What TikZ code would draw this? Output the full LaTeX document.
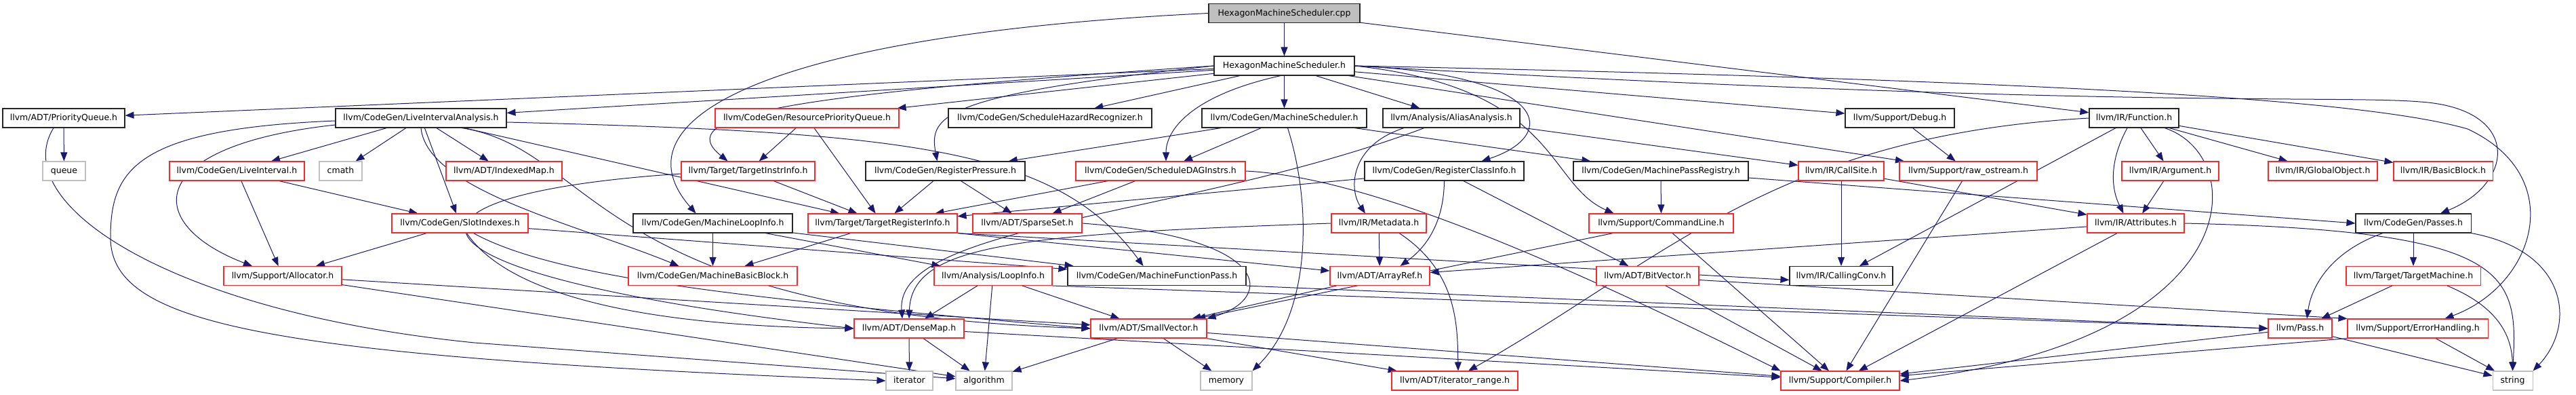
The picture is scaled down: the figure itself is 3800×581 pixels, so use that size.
\documentclass[tikz,border=0pt]{standalone}
\usepackage{fontspec}
\setmainfont{DejaVu Sans}
\usepackage{xcolor}
\usepackage{tikz}
\usetikzlibrary{arrows.meta, backgrounds}
\definecolor{edgeblue}{RGB}{25,25,112}
\definecolor{incred}{RGB}{255,40,40}
\definecolor{sysgray}{RGB}{191,191,191}

\begin{document}
\begin{tikzpicture}[
    x=1pt, y=-1pt,
    box/.style={draw=black!85, line width=1.1pt, fill=white, minimum height=28pt, inner xsep=2pt, inner ysep=0pt,
                text height=9.5pt, text depth=2.5pt, font=\fontsize{12.5}{14}\selectfont},
    redbox/.style={box, draw=incred},
    sysbox/.style={box, draw=sysgray},
    mainbox/.style={box, fill=sysgray},
    arrow/.style={-{Triangle[length=13pt, width=10pt]}, draw=edgeblue, line width=1pt},
]
\useasboundingbox (0,0) rectangle (3800,581);

% Source file and its header
\node[mainbox, minimum width=223] (cpp) at (1894.5,19.5) {HexagonMachineScheduler.cpp};
\node[box, minimum width=207] (hms) at (1894.5,97) {HexagonMachineScheduler.h};

% Row 2
\node[box, minimum width=180] (pq) at (94,174) {llvm/ADT/PriorityQueue.h};
\node[box, minimum width=252] (lia) at (621,174) {llvm/CodeGen/LiveIntervalAnalysis.h};
\node[redbox, minimum width=271] (rpq) at (1190.5,174) {llvm/CodeGen/ResourcePriorityQueue.h};
\node[box, minimum width=300] (shr) at (1549,174) {llvm/CodeGen/ScheduleHazardRecognizer.h};
\node[box, minimum width=243] (ms) at (1894.5,174) {llvm/CodeGen/MachineScheduler.h};
\node[box, minimum width=202] (aa) at (2141,174) {llvm/Analysis/AliasAnalysis.h};
\node[box, minimum width=161] (dbg) at (2802.5,174) {llvm/Support/Debug.h};
\node[box, minimum width=132] (fn) at (3148,174) {llvm/IR/Function.h};

% Row 3
\node[sysbox, minimum width=63] (queue) at (94.5,252) {queue};
\node[redbox, minimum width=199] (li) at (349.5,252) {llvm/CodeGen/LiveInterval.h};
\node[sysbox, minimum width=63] (cmath) at (502.5,252) {cmath};
\node[redbox, minimum width=171] (imap) at (743.5,252) {llvm/ADT/IndexedMap.h};
\node[redbox, minimum width=197] (tii) at (1103.5,252) {llvm/Target/TargetInstrInfo.h};
\node[box, minimum width=235] (rp) at (1394.5,252) {llvm/CodeGen/RegisterPressure.h};
\node[redbox, minimum width=250] (sdi) at (1712,252) {llvm/CodeGen/ScheduleDAGInstrs.h};
\node[box, minimum width=235] (rci) at (2130.5,252) {llvm/CodeGen/RegisterClassInfo.h};
\node[box, minimum width=258] (mpr) at (2450,252) {llvm/CodeGen/MachinePassRegistry.h};
\node[redbox, minimum width=126] (cs) at (2716,252) {llvm/IR/CallSite.h};
\node[redbox, minimum width=203] (ros) at (2903.5,252) {llvm/Support/raw\_ostream.h};
\node[redbox, minimum width=143] (arg) at (3201.5,252) {llvm/IR/Argument.h};
\node[redbox, minimum width=161] (go) at (3426.5,252) {llvm/IR/GlobalObject.h};
\node[redbox, minimum width=146] (bb) at (3604,252) {llvm/IR/BasicBlock.h};

% Row 4
\node[redbox, minimum width=201] (si) at (678.5,329) {llvm/CodeGen/SlotIndexes.h};
\node[box, minimum width=235] (mli) at (1051.5,329) {llvm/CodeGen/MachineLoopInfo.h};
\node[redbox, minimum width=220] (tri) at (1302,329) {llvm/Target/TargetRegisterInfo.h};
\node[redbox, minimum width=161] (ss) at (1515.5,329) {llvm/ADT/SparseSet.h};
\node[redbox, minimum width=140] (md) at (2034,329) {llvm/IR/Metadata.h};
\node[redbox, minimum width=213] (cl) at (2450.5,329) {llvm/Support/CommandLine.h};
\node[redbox, minimum width=143] (attr) at (3150.5,329) {llvm/IR/Attributes.h};
\node[box, minimum width=170] (passes) at (3560,329) {llvm/CodeGen/Passes.h};

% Row 5
\node[redbox, minimum width=174] (alloc) at (417,406.5) {llvm/Support/Allocator.h};
\node[redbox, minimum width=249] (mbb) at (1051.5,406.5) {llvm/CodeGen/MachineBasicBlock.h};
\node[redbox, minimum width=174] (loop) at (1465,406.5) {llvm/Analysis/LoopInfo.h};
\node[box, minimum width=263] (mfp) at (1706.5,406.5) {llvm/CodeGen/MachineFunctionPass.h};
\node[redbox, minimum width=147] (ar) at (2035.5,406.5) {llvm/ADT/ArrayRef.h};
\node[redbox, minimum width=151] (bv) at (2430.5,406.5) {llvm/ADT/BitVector.h};
\node[box, minimum width=152] (cc) at (2716,406.5) {llvm/IR/CallingConv.h};
\node[redbox, minimum width=198] (tm) at (3560,406.5) {llvm/Target/TargetMachine.h};

% Row 6
\node[redbox, minimum width=162] (dm) at (1341,484) {llvm/ADT/DenseMap.h};
\node[redbox, minimum width=171] (sv) at (1694.5,484) {llvm/ADT/SmallVector.h};
\node[redbox, minimum width=94] (pass) at (3393,484) {llvm/Pass.h};
\node[redbox, minimum width=207] (eh) at (3566.5,484) {llvm/Support/ErrorHandling.h};

% Row 7
\node[sysbox, minimum width=69] (iter) at (1341.5,561) {iterator};
\node[sysbox, minimum width=83] (algo) at (1451.5,561) {algorithm};
\node[sysbox, minimum width=76] (mem) at (1809,561) {memory};
\node[redbox, minimum width=186] (ir) at (2146,561) {llvm/ADT/iterator\_range.h};
\node[redbox, minimum width=175] (comp) at (2714.5,561) {llvm/Support/Compiler.h};
\node[sysbox, minimum width=59] (str) at (3706.5,561) {string};

\begin{scope}[on background layer]
% Source file
\draw[arrow] (cpp) -- (hms);
\draw[arrow] (cpp.west) .. controls (1150,50) and (900,170) .. ([xshift=-25pt]mli.north);
\draw[arrow] (cpp) -- (fn);

% HexagonMachineScheduler.h
\draw[arrow] (hms) -- (pq);
\draw[arrow] (hms) -- (lia);
\draw[arrow] (hms) -- (rpq);
\draw[arrow] (hms) -- (shr);
\draw[arrow] (hms) -- (ms);
\draw[arrow] (hms) -- (aa);
\draw[arrow] (hms) -- (dbg);
\draw[arrow] (hms) -- (ros);
\draw[arrow] (hms.west) .. controls (1150,140) and (990,170) .. ([xshift=-30pt]tii.north);
\draw[arrow] (hms.west) .. controls (1390,140) and (1370,170) .. ([xshift=-12pt]rp.north);
\draw[arrow] (hms.250) .. controls (1760,140) and (1720,190) .. ([xshift=8pt]sdi.north);
\draw[arrow] (hms.east) .. controls (2290,110) and (2300,200) .. ([xshift=55pt]rci.north);
\draw[arrow] (hms.east) .. controls (2300,130) and (2280,270) .. ([xshift=-70pt]cl.north);
\draw[arrow] (hms.east) .. controls (3100,160) and (3450,140) .. (3570,150) .. controls (3720,160) and (3710,270) .. ([xshift=40pt]passes.north);
\draw[arrow] (hms.east) .. controls (3100,120) and (3500,150) .. (3640,190) .. controls (3790,260) and (3740,420) .. ([xshift=40pt]eh.north);

% Row 2 headers
\draw[arrow] (pq) -- (queue);
\draw[arrow] ([xshift=-15pt]pq.south) .. controls (10,300) and (250,460) .. (700,505) -- (algo);
\draw[arrow] (lia) -- (li);
\draw[arrow] (lia) -- (cmath);
\draw[arrow] (lia) -- (imap);
\draw[arrow] (lia) -- (si);
\draw[arrow] (lia) -- (tri);
\draw[arrow] ([yshift=-4pt]lia.west) .. controls (200,190) and (163,250) .. (163,350) .. controls (163,480) and (400,525) .. (iter.west);
\draw[arrow] ([yshift=-10pt]lia.west) .. controls (210,215) and (210,330) .. ([xshift=-45pt]alloc.north);
\draw[arrow] (lia.south) .. controls (630,280) and (850,330) .. ([xshift=-50pt]mbb.north);
\draw[arrow] ([xshift=60pt]lia.south) .. controls (880,220) and (870,460) .. (sv.west);
\draw[arrow] ([yshift=-6pt]lia.east) .. controls (1350,195) and (1560,220) .. ([xshift=-20pt]mfp.north);
\draw[arrow] (rpq) -- (tii);
\draw[arrow] (rpq) -- (tri);
\draw[arrow] (ms) -- (rp);
\draw[arrow] (ms) -- (sdi);
\draw[arrow] (ms) -- (mpr);
\draw[arrow] ([xshift=5pt]ms.south) .. controls (1935,300) and (1935,460) .. (mem.north east);
\draw[arrow] (aa) -- (cs);
\draw[arrow] ([xshift=-70pt]aa.south) .. controls (1990,215) and (1990,280) .. ([xshift=-20pt]md.north);
\draw[arrow] ([xshift=-40pt]aa.south) .. controls (1750,320) and (1320,330) .. ([xshift=-10pt]dm.north);
\draw[arrow] (dbg) -- (ros);
\draw[arrow] (fn) -- (arg);
\draw[arrow] (fn) -- (go);
\draw[arrow] (fn) -- (bb);
\draw[arrow] (fn) -- (cc);
\draw[arrow] ([xshift=-10pt]fn.south) .. controls (3110,240) and (3115,280) .. ([xshift=-18pt]attr.north);
\draw[arrow] (fn.west) .. controls (2620,200) and (2460,380) .. ([xshift=20pt]ir.north);
\draw[arrow] ([xshift=45pt]fn.south) .. controls (3320,230) and (3320,500) .. (comp.east);

% Row 3 headers
\draw[arrow] (li) -- (si);
\draw[arrow] (li) -- (alloc);
\draw[arrow] (tii) -- (tri);
\draw[arrow] ([yshift=-4pt]tii.west) .. controls (560,285) and (530,400) .. (dm.west);
\draw[arrow] (rp) -- (tri);
\draw[arrow] (rp) -- (ss);
\draw[arrow] (sdi) -- (tri);
\draw[arrow] (sdi) -- (ss);
\draw[arrow] (sdi.east) .. controls (2000,260) and (2250,360) .. (comp.north west);
\draw[arrow] (rci) -- (tri);
\draw[arrow] (rci) -- (bv);
\draw[arrow] (rci.south) .. controls (2130,320) and (2110,360) .. ([xshift=30pt]ar.north);
\draw[arrow] (mpr) -- (cl);
\draw[arrow] ([yshift=-10pt]mpr.east) -- (passes.west);
\draw[arrow] (cs) -- (cc);
\draw[arrow] (cs) -- (attr);
\draw[arrow] (ros) -- (comp);
\draw[arrow] (arg) -- (attr);

% Row 4 headers
\draw[arrow] (si) -- (alloc);
\draw[arrow] (si) -- (mfp);
\draw[arrow] ([xshift=10pt]si.south) .. controls (740,420) and (900,480) .. (dm.west);
\draw[arrow] ([xshift=20pt]si.south) .. controls (820,410) and (1100,440) .. (sv.west);
\draw[arrow] (mli) -- (mbb);
\draw[arrow] (mli) -- (loop);
\draw[arrow] (mli) -- (mfp);
\draw[arrow] (tri) -- (mbb);
\draw[arrow] (tri.south east) -- (ar);
\draw[arrow] (tri.south east) -- ([yshift=-6pt]cc.west);
\draw[arrow] (ss.east) .. controls (1880,350) and (1880,440) .. (sv.north east);
\draw[arrow] (md) -- (ar);
\draw[arrow] ([xshift=30pt]md.south) .. controls (2150,400) and (2150,480) .. ([xshift=5pt]ir.north);
\draw[arrow] (md.west) .. controls (1500,345) and (1345,360) .. (dm.north);
\draw[arrow] (cl) -- (sv);
\draw[arrow] (cl) -- (comp);
\draw[arrow] (attr) -- (ar);
\draw[arrow] (attr) -- (comp);
\draw[arrow] (attr.east) .. controls (3700,340) and (3715,400) .. (str.north);
\draw[arrow] (passes) -- (tm);
\draw[arrow] ([xshift=-45pt]passes.south) .. controls (3440,370) and (3410,420) .. ([xshift=10pt]pass.north);
\draw[arrow] (passes.south east) .. controls (3790,370) and (3800,480) .. (str.north east);

% Row 5 headers
\draw[arrow] (alloc) -- (sv);
\draw[arrow] (alloc) -- (algo);
\draw[arrow] (loop) -- (dm);
\draw[arrow] (loop) -- (algo);
\draw[arrow] (loop) -- (sv);
\draw[arrow] (loop.south east) -- (pass.west);
\draw[arrow] (mfp.south east) -- (pass.west);
\draw[arrow] (ar) -- (sv);
\draw[arrow] ([yshift=-6pt]bv.east) -- (eh.north west);
\draw[arrow] (bv) -- (comp);
\draw[arrow] (tm) -- (pass);
\draw[arrow] ([xshift=50pt]tm.south) .. controls (3680,450) and (3705,490) .. (str.north);

% Row 6 headers
\draw[arrow] (dm) -- (iter);
\draw[arrow] (dm) -- (algo);
\draw[arrow] (dm) -- (comp);
\draw[arrow] (sv) -- (algo);
\draw[arrow] (sv) -- (mem);
\draw[arrow] (sv) -- (ir);
\draw[arrow] (sv) -- (comp);
\draw[arrow] (pass) -- (str);
\draw[arrow] (pass) -- (comp);
\draw[arrow] (eh) -- (str);
\draw[arrow] (eh.south west) -- (comp);
\end{scope}

\end{tikzpicture}
\end{document}
